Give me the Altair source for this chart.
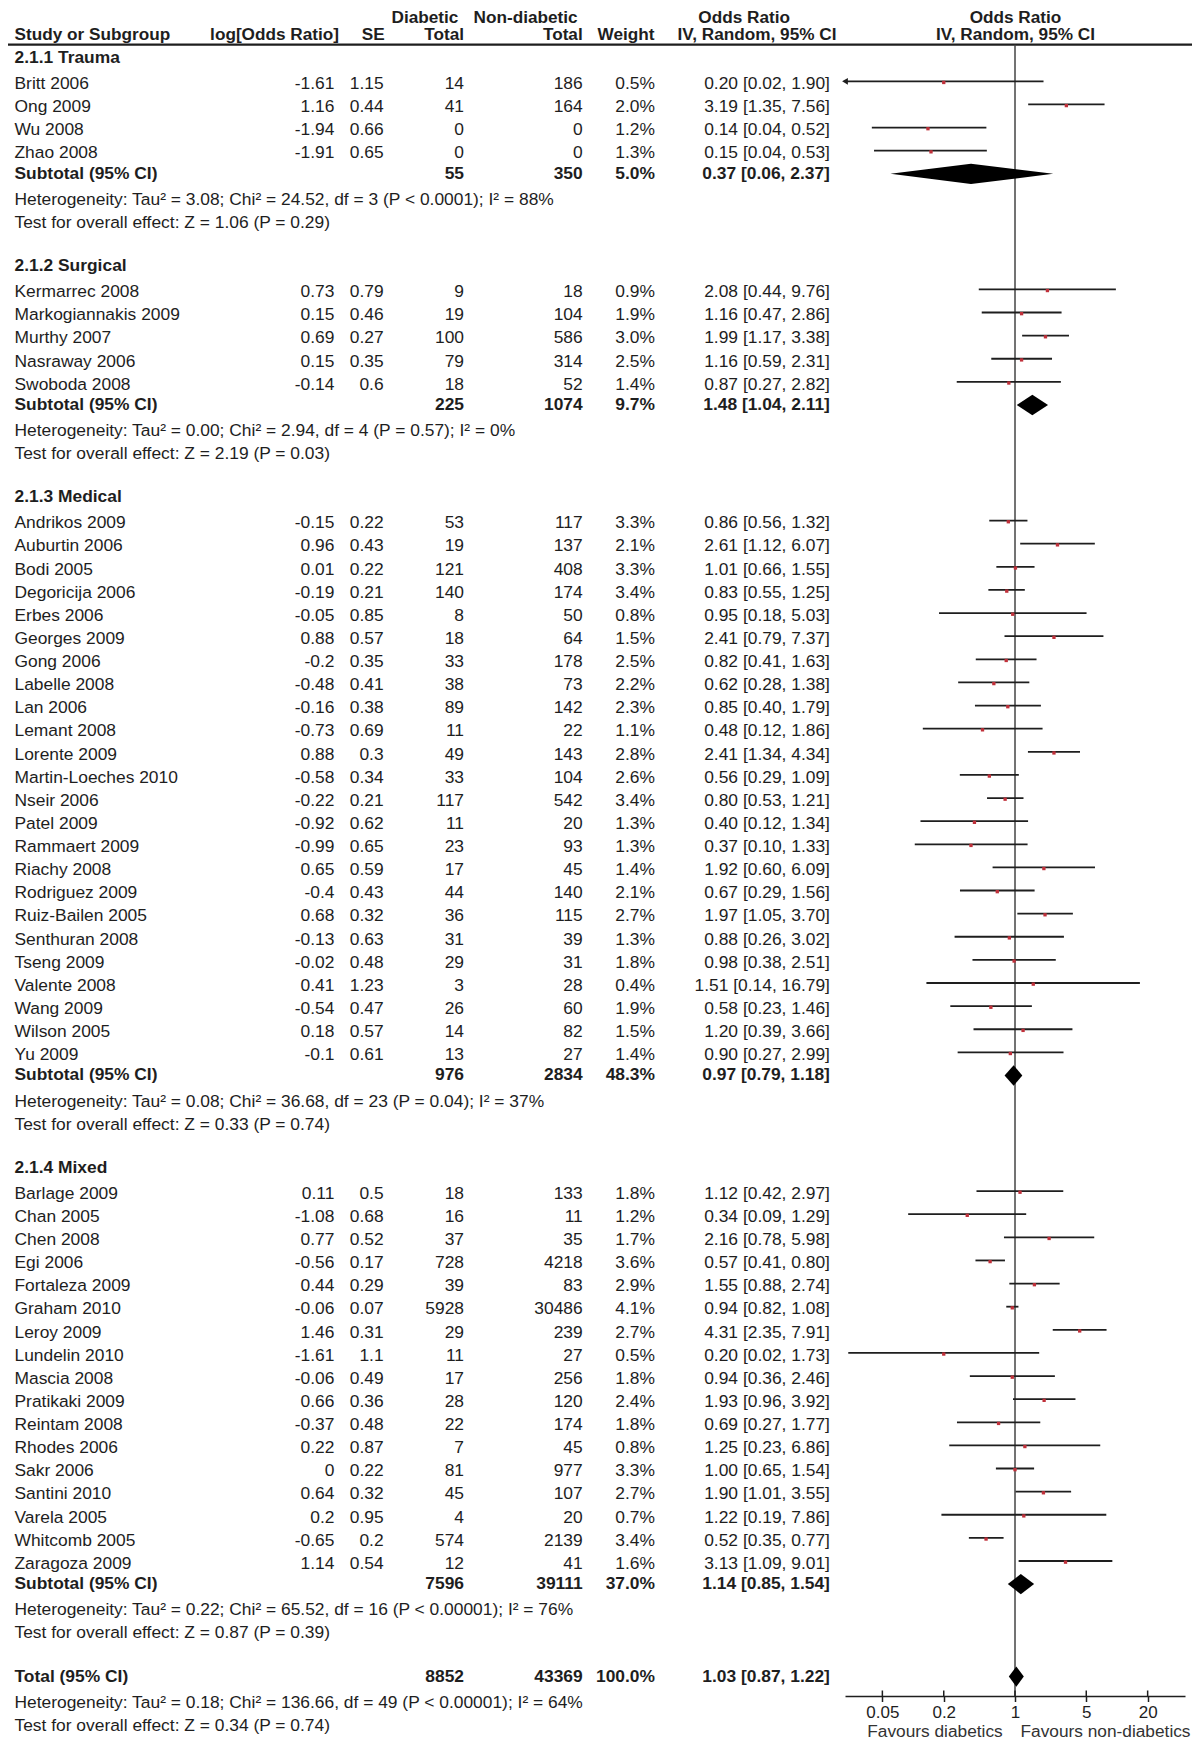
import math
import altair as alt
import pandas as pd

FONT = "Liberation Sans"
FS = 17.4
FSH = 17.2
INK = "#1e1e1e"
RED = "#c0303a"

# ---------------- data ----------------
group_labels = ["2.1.1 Trauma", "2.1.2 Surgical", "2.1.3 Medical", "2.1.4 Mixed"]
group_sizes = [4, 5, 24, 17]

study = [
    "Britt 2006", "Ong 2009", "Wu 2008", "Zhao 2008",
    "Kermarrec 2008", "Markogiannakis 2009", "Murthy 2007", "Nasraway 2006", "Swoboda 2008",
    "Andrikos 2009", "Auburtin 2006", "Bodi 2005", "Degoricija 2006", "Erbes 2006", "Georges 2009",
    "Gong 2006", "Labelle 2008", "Lan 2006", "Lemant 2008", "Lorente 2009", "Martin-Loeches 2010",
    "Nseir 2006", "Patel 2009", "Rammaert 2009", "Riachy 2008", "Rodriguez 2009", "Ruiz-Bailen 2005",
    "Senthuran 2008", "Tseng 2009", "Valente 2008", "Wang 2009", "Wilson 2005", "Yu 2009",
    "Barlage 2009", "Chan 2005", "Chen 2008", "Egi 2006", "Fortaleza 2009", "Graham 2010",
    "Leroy 2009", "Lundelin 2010", "Mascia 2008", "Pratikaki 2009", "Reintam 2008", "Rhodes 2006",
    "Sakr 2006", "Santini 2010", "Varela 2005", "Whitcomb 2005", "Zaragoza 2009",
]
log_or = [
    -1.61, 1.16, -1.94, -1.91,
    0.73, 0.15, 0.69, 0.15, -0.14,
    -0.15, 0.96, 0.01, -0.19, -0.05, 0.88, -0.2, -0.48, -0.16, -0.73, 0.88, -0.58,
    -0.22, -0.92, -0.99, 0.65, -0.4, 0.68, -0.13, -0.02, 0.41, -0.54, 0.18, -0.1,
    0.11, -1.08, 0.77, -0.56, 0.44, -0.06, 1.46, -1.61, -0.06, 0.66, -0.37, 0.22,
    0, 0.64, 0.2, -0.65, 1.14,
]
se = [
    1.15, 0.44, 0.66, 0.65,
    0.79, 0.46, 0.27, 0.35, 0.6,
    0.22, 0.43, 0.22, 0.21, 0.85, 0.57, 0.35, 0.41, 0.38, 0.69, 0.3, 0.34,
    0.21, 0.62, 0.65, 0.59, 0.43, 0.32, 0.63, 0.48, 1.23, 0.47, 0.57, 0.61,
    0.5, 0.68, 0.52, 0.17, 0.29, 0.07, 0.31, 1.1, 0.49, 0.36, 0.48, 0.87,
    0.22, 0.32, 0.95, 0.2, 0.54,
]
n_diab = [
    14, 41, 0, 0,
    9, 19, 100, 79, 18,
    53, 19, 121, 140, 8, 18, 33, 38, 89, 11, 49, 33,
    117, 11, 23, 17, 44, 36, 31, 29, 3, 26, 14, 13,
    18, 16, 37, 728, 39, 5928, 29, 11, 17, 28, 22, 7,
    81, 45, 4, 574, 12,
]
n_nondiab = [
    186, 164, 0, 0,
    18, 104, 586, 314, 52,
    117, 137, 408, 174, 50, 64, 178, 73, 142, 22, 143, 104,
    542, 20, 93, 45, 140, 115, 39, 31, 28, 60, 82, 27,
    133, 11, 35, 4218, 83, 30486, 239, 27, 256, 120, 174, 45,
    977, 107, 20, 2139, 41,
]
weight = [
    0.5, 2.0, 1.2, 1.3,
    0.9, 1.9, 3.0, 2.5, 1.4,
    3.3, 2.1, 3.3, 3.4, 0.8, 1.5, 2.5, 2.2, 2.3, 1.1, 2.8, 2.6,
    3.4, 1.3, 1.3, 1.4, 2.1, 2.7, 1.3, 1.8, 0.4, 1.9, 1.5, 1.4,
    1.8, 1.2, 1.7, 3.6, 2.9, 4.1, 2.7, 0.5, 1.8, 2.4, 1.8, 0.8,
    3.3, 2.7, 0.7, 3.4, 1.6,
]
or_est = [
    0.20, 3.19, 0.14, 0.15,
    2.08, 1.16, 1.99, 1.16, 0.87,
    0.86, 2.61, 1.01, 0.83, 0.95, 2.41, 0.82, 0.62, 0.85, 0.48, 2.41, 0.56,
    0.80, 0.40, 0.37, 1.92, 0.67, 1.97, 0.88, 0.98, 1.51, 0.58, 1.20, 0.90,
    1.12, 0.34, 2.16, 0.57, 1.55, 0.94, 4.31, 0.20, 0.94, 1.93, 0.69, 1.25,
    1.00, 1.90, 1.22, 0.52, 3.13,
]
or_lo = [
    0.02, 1.35, 0.04, 0.04,
    0.44, 0.47, 1.17, 0.59, 0.27,
    0.56, 1.12, 0.66, 0.55, 0.18, 0.79, 0.41, 0.28, 0.40, 0.12, 1.34, 0.29,
    0.53, 0.12, 0.10, 0.60, 0.29, 1.05, 0.26, 0.38, 0.14, 0.23, 0.39, 0.27,
    0.42, 0.09, 0.78, 0.41, 0.88, 0.82, 2.35, 0.02, 0.36, 0.96, 0.27, 0.23,
    0.65, 1.01, 0.19, 0.35, 1.09,
]
or_hi = [
    1.90, 7.56, 0.52, 0.53,
    9.76, 2.86, 3.38, 2.31, 2.82,
    1.32, 6.07, 1.55, 1.25, 5.03, 7.37, 1.63, 1.38, 1.79, 1.86, 4.34, 1.09,
    1.21, 1.34, 1.33, 6.09, 1.56, 3.70, 3.02, 2.51, 16.79, 1.46, 3.66, 2.99,
    2.97, 1.29, 5.98, 0.80, 2.74, 1.08, 7.91, 1.73, 2.46, 3.92, 1.77, 6.86,
    1.54, 3.55, 7.86, 0.77, 9.01,
]

sub_diab = [55, 225, 976, 7596]
sub_nondiab = [350, 1074, 2834, 39111]
sub_weight = [5.0, 9.7, 48.3, 37.0]
sub_est = [0.37, 1.48, 0.97, 1.14]
sub_lo = [0.06, 1.04, 0.79, 0.85]
sub_hi = [2.37, 2.11, 1.18, 1.54]
sub_het = [
    "Heterogeneity: Tau\u00b2 = 3.08; Chi\u00b2 = 24.52, df = 3 (P < 0.0001); I\u00b2 = 88%",
    "Heterogeneity: Tau\u00b2 = 0.00; Chi\u00b2 = 2.94, df = 4 (P = 0.57); I\u00b2 = 0%",
    "Heterogeneity: Tau\u00b2 = 0.08; Chi\u00b2 = 36.68, df = 23 (P = 0.04); I\u00b2 = 37%",
    "Heterogeneity: Tau\u00b2 = 0.22; Chi\u00b2 = 65.52, df = 16 (P < 0.00001); I\u00b2 = 76%",
]
sub_test = [
    "Test for overall effect: Z = 1.06 (P = 0.29)",
    "Test for overall effect: Z = 2.19 (P = 0.03)",
    "Test for overall effect: Z = 0.33 (P = 0.74)",
    "Test for overall effect: Z = 0.87 (P = 0.39)",
]
total_diab = 8852
total_nondiab = 43369
total_weight = 100.0
total_est, total_lo, total_hi = 1.03, 0.87, 1.22
total_het = "Heterogeneity: Tau\u00b2 = 0.18; Chi\u00b2 = 136.66, df = 49 (P < 0.00001); I\u00b2 = 64%"
total_test = "Test for overall effect: Z = 0.34 (P = 0.74)"

axis_ticks = [0.05, 0.2, 1, 5, 20]
x_domain = [0.0215, 46.5]

# ---------------- build the row table ----------------
def ci_text(e, lo, hi):
    return f"{e:.2f} [{lo:.2f}, {hi:.2f}]"

rows = []
r = 0
i = 0
for g, n in enumerate(group_sizes):
    rows.append(dict(r=r, kind="group", name=group_labels[g]))
    r += 1
    for _ in range(n):
        lo_c = math.exp(log_or[i] - 1.96 * se[i])
        hi_c = math.exp(log_or[i] + 1.96 * se[i])
        rows.append(dict(r=r, kind="study", name=study[i], lor=str(log_or[i]), se=str(se[i]),
                         d=str(n_diab[i]), nd=str(n_nondiab[i]), w=f"{weight[i]:.1f}%",
                         ci=ci_text(or_est[i], or_lo[i], or_hi[i]),
                         est=or_est[i], lo=lo_c, hi=hi_c))
        r += 1
        i += 1
    rows.append(dict(r=r, kind="sub", name="Subtotal (95% CI)", d=str(sub_diab[g]),
                     nd=str(sub_nondiab[g]), w=f"{sub_weight[g]:.1f}%",
                     ci=ci_text(sub_est[g], sub_lo[g], sub_hi[g]),
                     est=sub_est[g], lo=sub_lo[g], hi=sub_hi[g]))
    r += 1
    rows.append(dict(r=r, kind="note", name=sub_het[g]))
    r += 1
    rows.append(dict(r=r, kind="note", name=sub_test[g]))
    r += 2
rows.append(dict(r=r, kind="sub", name="Total (95% CI)", d=str(total_diab), nd=str(total_nondiab),
                 w=f"{total_weight:.1f}%", ci=ci_text(total_est, total_lo, total_hi),
                 est=total_est, lo=total_lo, hi=total_hi))
r += 1
rows.append(dict(r=r, kind="note", name=total_het))
r += 1
rows.append(dict(r=r, kind="note", name=total_test))

df = pd.DataFrame(rows)
for c in ["lor", "se", "d", "nd", "w", "ci"]:
    df[c] = df[c].fillna("")
df["bold"] = df["kind"].isin(["group", "sub"])
df["ty"] = df["r"] + df["kind"].map({"group": 0.0, "sub": 0.0, "study": 0.12, "note": 0.13})

studies = df[df.kind == "study"].copy()
studies["lo_plot"] = studies["lo"].clip(lower=x_domain[0])
studies["hi_plot"] = studies["hi"].clip(upper=x_domain[1])
studies["ypt"] = studies["r"] + 0.05
arrows = studies[studies["lo"] < x_domain[0]].copy()

subs = df[df.kind == "sub"]
H = 0.44
dia_rows = []
for _, s in subs.iterrows():
    k = f"d{int(s['r'])}"
    rr = float(s["r"])
    dia_rows.append(dict(key=k, yy=rr - H, xl=float(s["est"]), xr=float(s["est"])))
    dia_rows.append(dict(key=k, yy=rr, xl=float(s["lo"]), xr=float(s["hi"])))
    dia_rows.append(dict(key=k, yy=rr + H, xl=float(s["est"]), xr=float(s["est"])))
dia = pd.DataFrame(dia_rows)

# ---------------- chart ----------------
W, HGT = 1184, 1688
yscale = alt.Scale(domain=[0, 72], range=[50.2, 50.2 + 72 * 23.12])
xscale = alt.Scale(type="log", domain=x_domain, range=[837, 1177])
AX = alt.Axis(values=axis_ticks, format="~g", title=None, grid=False,
              orient="bottom", domainColor=INK, domainWidth=1.5,
              tickColor=INK, tickWidth=1.5, tickSize=5.5,
              labelFont=FONT, labelFontSize=17, labelColor=INK,
              labelPadding=3, labelFlush=False, labelOverlap=False)
X = lambda f: alt.X(f, scale=xscale, axis=AX, title=None)
Y = lambda f: alt.Y(f, scale=yscale, axis=None)

layers = []

# text columns
cols = [("name", 6.5, "left"), ("lor", 326.4, "right"), ("se", 375.6, "right"),
        ("d", 456.0, "right"), ("nd", 574.7, "right"), ("w", 647.0, "right"),
        ("ci", 821.9, "right")]
for field, xpos, al in cols:
    for b in (False, True):
        sub_df = df[df.bold == b]
        sub_df = sub_df[sub_df[field] != ""]
        if len(sub_df) == 0:
            continue
        layers.append(
            alt.Chart(sub_df).mark_text(
                align=al, baseline="middle", font=FONT, fontSize=FS, color=INK,
                fontWeight="bold" if b else "normal",
            ).encode(x=alt.value(xpos), y=Y("ty:Q"), text=f"{field}:N")
        )

# headers
one = pd.DataFrame({"one": [1.0]})
L1, L2 = 10.4, 26.9
hdr = [
    ("Diabetic", 417.0, L1, "center"), ("Non-diabetic", 517.6, L1, "center"),
    ("Odds Ratio", 736.2, L1, "center"), ("Odds Ratio", 1007.5, L1, "center"),
    ("Study or Subgroup", 6.5, L2, "left"), ("log[Odds Ratio]", 331.0, L2, "right"),
    ("SE", 376.7, L2, "right"), ("Total", 456.0, L2, "right"),
    ("Total", 574.7, L2, "right"), ("Weight", 646.5, L2, "right"),
    ("IV, Random, 95% CI", 749.0, L2, "center"), ("IV, Random, 95% CI", 1007.5, L2, "center"),
]
for t, xx, yy, al in hdr:
    layers.append(
        alt.Chart(pd.DataFrame({"t": [t]})).mark_text(
            align=al, baseline="middle", font=FONT, fontSize=FSH, fontWeight="bold", color=INK
        ).encode(x=alt.value(xx), y=alt.value(yy), text="t:N")
    )

# header line
layers.append(
    alt.Chart(one).mark_rule(color=INK, strokeWidth=2.2).encode(
        x=alt.value(0), x2=alt.value(W), y=alt.value(36.7))
)
# line of no effect
layers.append(
    alt.Chart(one).mark_rule(color="#444444", strokeWidth=1.5).encode(
        x=X("one:Q"), y=alt.value(36.7), y2=alt.value(HGT))
)
# CI lines
layers.append(
    alt.Chart(studies).mark_rule(color=INK, strokeWidth=1.8).encode(
        x=X("lo_plot:Q"), x2="hi_plot:Q", y=Y("r:Q"))
)
# arrows for truncated CIs
layers.append(
    alt.Chart(arrows).mark_point(shape="triangle-left", filled=True, size=45, color=INK, opacity=1).encode(
        x=X("lo_plot:Q"), y=Y("r:Q"))
)
# point estimates
layers.append(
    alt.Chart(studies).mark_square(size=11, color=RED, opacity=1).encode(
        x=X("est:Q"), y=Y("ypt:Q"))
)
# diamonds (horizontal area: y is the dimension, x..x2 the width)
layers.append(
    alt.Chart(dia).mark_area(color="black", fill="black", opacity=1, interpolate="linear",
                             orient="horizontal").encode(
        y=Y("yy:Q"), x=X("xl:Q"), x2="xr:Q", detail="key:N")
)
# upper halves of the axis ticks
layers.append(
    alt.Chart(pd.DataFrame({"tick": axis_ticks})).mark_rule(color=INK, strokeWidth=1.5).encode(
        x=X("tick:Q"), y=alt.value(HGT - 5.5), y2=alt.value(HGT))
)
# favours labels
for t, xx in [("Favours diabetics", 927.0), ("Favours non-diabetics", 1097.5)]:
    layers.append(
        alt.Chart(pd.DataFrame({"t": [t]})).mark_text(
            align="center", baseline="middle", font=FONT, fontSize=17.3, color="#333333"
        ).encode(x=alt.value(xx), y=alt.value(1724.0), text="t:N")
    )

chart = alt.layer(*layers).properties(
    width=W, height=HGT,
    autosize=alt.AutoSizeParams(type="none"),
    padding={"left": 0, "top": 0, "right": 0, "bottom": 49},
).configure_view(stroke=None)

chart.save("out.html", embed_options={"renderer": "svg", "actions": False})
